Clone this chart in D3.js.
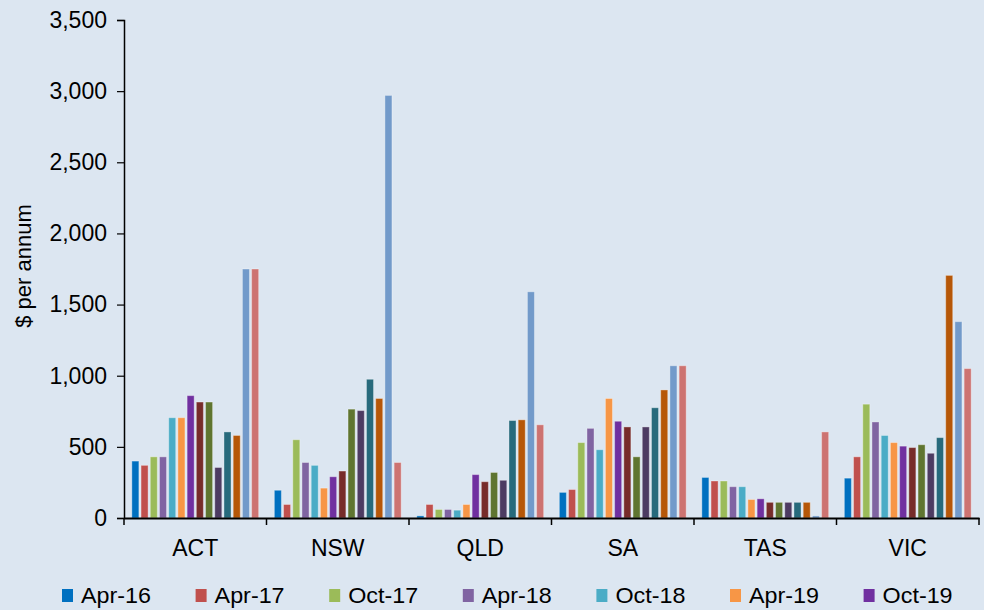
<!DOCTYPE html>
<html>
<head>
<meta charset="utf-8">
<script src="https://cdn.jsdelivr.net/npm/d3@7"></script>
<style>
  html, body { margin: 0; padding: 0; background: #dce6f1; }
  svg { display: block; }
  text { font-family: "Liberation Sans", Arial, Helvetica, sans-serif; fill: #000; }
</style>
</head>
<body>
<svg id="chart" width="984" height="610"></svg>
<script>
const categories = ["ACT", "NSW", "QLD", "SA", "TAS", "VIC"];
const seriesNames = ["Apr-16", "Apr-17", "Oct-17", "Apr-18", "Oct-18", "Apr-19", "Oct-19",
                     "Apr-20", "Oct-20", "Apr-21", "Oct-21", "Apr-22", "Oct-22", "Apr-23"];
const seriesColors = ["#0070C0", "#C0504D", "#9BBB59", "#8064A2", "#4BACC6", "#F79646", "#7030A0",
                      "#772C2A", "#5F7530", "#4D3B62", "#276A7C", "#B65708", "#729ACA", "#CD7371"];
// values per category, in series order
const valuesACT = [400, 370, 430, 430, 705, 705, 860, 815, 815, 355, 605, 580, 1750, 1750];
const valuesNSW = [195, 95, 550, 390, 370, 210, 290, 330, 765, 755, 975, 840, 2970, 390];
const valuesQLD = [15, 95, 60, 60, 55, 95, 305, 255, 320, 265, 685, 690, 1590, 655];
const valuesSA  = [180, 200, 530, 630, 480, 840, 680, 640, 430, 640, 775, 900, 1070, 1070];
const valuesTAS = [285, 260, 260, 220, 220, 130, 135, 110, 110, 110, 110, 110, 15, 605];
const valuesVIC = [280, 430, 800, 675, 580, 530, 505, 495, 515, 455, 565, 1705, 1380, 1050];
const yTicks = [0, 500, 1000, 1500, 2000, 2500, 3000, 3500];

const valuesByCat = [valuesACT, valuesNSW, valuesQLD, valuesSA, valuesTAS, valuesVIC];

const svg = d3.select("#chart");
const mLeft = 124, mRight = 979, mTop = 20, mBottom = 518;

const x0 = d3.scaleBand().domain(categories).range([mLeft, mRight]).padding(0);
const x1 = d3.scaleBand().domain(d3.range(seriesNames.length))
  .range([0, x0.bandwidth()]).paddingInner(0.235).paddingOuter(0.85);
const y = d3.scaleLinear().domain([0, 3500]).range([mBottom, mTop]);

// bars
const groups = svg.append("g").selectAll("g")
  .data(categories)
  .join("g")
  .attr("transform", d => `translate(${x0(d)},0)`);

groups.selectAll("rect")
  .data((d, i) => valuesByCat[i].map((v, j) => ({ v, j })))
  .join("rect")
  .attr("x", d => x1(d.j))
  .attr("y", d => y(d.v))
  .attr("width", x1.bandwidth())
  .attr("height", d => y(0) - y(d.v))
  .attr("fill", d => seriesColors[d.j])
  .attr("stroke", "rgba(255,255,255,0.35)")
  .attr("stroke-width", 1);

// y axis
const yAxis = d3.axisLeft(y).tickValues(yTicks).tickSize(7).tickPadding(10)
  .tickFormat(d3.format(","));
const gy = svg.append("g").attr("transform", `translate(${mLeft},0)`).call(yAxis);
gy.select(".domain").attr("stroke", "#000").attr("stroke-width", 1.5);
gy.selectAll(".tick line").attr("stroke", "#000").attr("stroke-width", 1.2);
gy.selectAll(".tick text").style("font-size", "23px").attr("fill", "#000")
  .style("font-family", '"Liberation Sans", Arial, sans-serif');

// x axis
const xAxis = d3.axisBottom(x0).tickSize(0).tickPadding(22);
const gx = svg.append("g").attr("transform", `translate(0,${mBottom})`).call(xAxis);
gx.select(".domain").attr("stroke", "#000").attr("stroke-width", 2);
gx.selectAll(".tick text").style("font-size", "23px").attr("fill", "#000")
  .style("font-family", '"Liberation Sans", Arial, sans-serif');
// category separator ticks
const sepPositions = categories.map(c => x0(c)).concat([x0(categories[categories.length - 1]) + x0.bandwidth()]);
gx.selectAll("line.sep").data(sepPositions).join("line")
  .attr("class", "sep")
  .attr("x1", d => d).attr("x2", d => d)
  .attr("y1", 0).attr("y2", 7)
  .attr("stroke", "#000").attr("stroke-width", 1.5);

// y title
svg.append("text")
  .attr("transform", `translate(31,266) rotate(-90)`)
  .attr("text-anchor", "middle")
  .style("font-size", "22px")
  .text("$ per annum");

// legend (two rows; second row falls below the visible area)
const legend = svg.append("g");
const legendItems = legend.selectAll("g")
  .data(seriesNames)
  .join("g")
  .attr("transform", (d, i) => `translate(${62 + (i % 7) * 133.6},${589 + Math.floor(i / 7) * 30})`);
legendItems.append("rect")
  .attr("width", 11).attr("height", 13)
  .attr("fill", (d, i) => seriesColors[i]);
legendItems.append("text")
  .attr("x", 19).attr("y", 14)
  .style("font-size", "22px")
  .text(d => d)
  .attr("textLength", 70)
  .attr("lengthAdjust", "spacingAndGlyphs");
</script>
</body>
</html>
